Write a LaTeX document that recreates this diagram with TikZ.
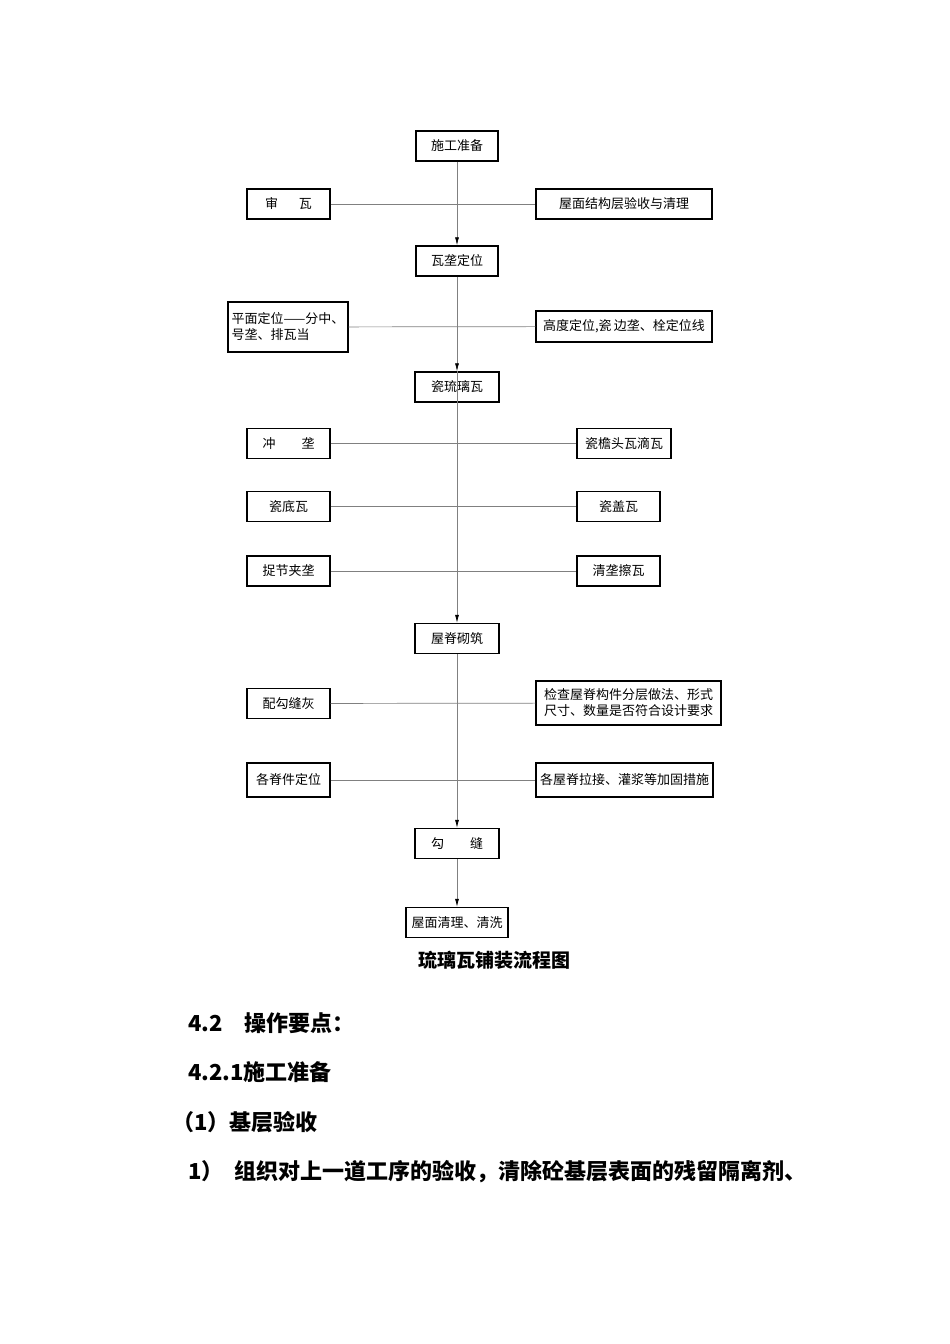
\documentclass[tikz,border=0pt]{standalone}
\usepackage{fontspec}
\setmainfont{Noto Sans CJK SC}
\usetikzlibrary{arrows.meta}

\tikzset{
  box/.style={draw, line width=1.4pt, minimum height=30, inner sep=2pt, font=\fontsize{13}{16}\selectfont},
  flow/.style={draw=gray, line width=0.7pt, -{Latex[length=8pt,width=4pt,black]}},
  link/.style={draw=gray, line width=0.7pt},
  heading/.style={anchor=west, inner sep=0pt, font=\bfseries\fontsize{22}{26}\selectfont},
}

\begin{document}
\begin{tikzpicture}[x=1pt, y=-1pt]

    % page frame, measured in pixels of the scanned page
    \useasboundingbox (0,0) rectangle (950,1344);

    % main column
    \node[box, minimum width=82] (prep) at (457,146) {施工准备};
    \node[box, minimum width=82] (locate) at (457,261) {瓦垄定位};
    \node[box, minimum width=84] (glaze) at (457,387) {瓷琉璃瓦};
    \node[box, minimum width=84] (ridge) at (457,638.5) {屋脊砌筑};
    \node[box, minimum width=84] (joint) at (457,843.5) {勾\hspace{2em}缝};
    \node[box, minimum width=102] (wash) at (457,922.5) {屋面清理、清洗};

    % side steps, left
    \node[box, minimum width=83] (check) at (288.5,204) {审\hspace{1.6em}瓦};
    \node[box, minimum width=120, minimum height=50, align=left] (plane) at (288,327) {平面定位——分中、\\号垄、排瓦当};
    \node[box, minimum width=83] (push) at (288.5,443.5) {冲\hspace{2em}垄};
    \node[box, minimum width=83] (bottom) at (288.5,506.5) {瓷底瓦};
    \node[box, minimum width=83] (pinch) at (288.5,571) {捉节夹垄};
    \node[box, minimum width=83] (mortar) at (288.5,703.5) {配勾缝灰};
    \node[box, minimum width=83, minimum height=34] (place) at (288.5,780) {各脊件定位};

    % side steps, right
    \node[box, minimum width=176] (roof) at (624,204) {屋面结构层验收与清理};
    \node[box, minimum width=176, minimum height=31] (height) at (624,326.5) {高度定位,瓷\,边垄、栓定位线};
    \node[box, minimum width=94] (eave) at (624,443.5) {瓷檐头瓦滴瓦};
    \node[box, minimum width=83] (cover) at (618.5,506.5) {瓷盖瓦};
    \node[box, minimum width=83] (clean) at (618.5,571) {清垄擦瓦};
    \node[box, minimum width=185, minimum height=44, align=left] (inspect) at (628.5,703) {检查屋脊构件分层做法、形式\\尺寸、数量是否符合设计要求};
    \node[box, minimum width=177, minimum height=34] (brace) at (624.5,780) {各屋脊拉接、灌浆等加固措施};

    % cross links
    \draw[link] (check) -- (roof);
    \draw[link] (plane) -- (height);
    \draw[link] (push) -- (eave);
    \draw[link] (bottom) -- (cover);
    \draw[link] (pinch) -- (clean);
    \draw[link] (mortar) -- (inspect);
    \draw[link] (place) -- (brace);

    % main flow
    \draw[flow] (prep) -- (locate);
    \draw[flow] (locate) -- (glaze);
    \draw[flow] (glaze.north) -- (ridge);
    \draw[flow] (ridge) -- (joint);
    \draw[flow] (joint) -- (wash);

    \node[font=\bfseries\fontsize{19}{22}\selectfont] (caption) at (494,960) {琉璃瓦铺装流程图};

    % text below the chart
    \node[heading] (sec) at (188,1023) {4.2\hspace{1em}操作要点：};
    \node[heading] (subsec) at (188,1072) {4.2.1施工准备};
    \node[heading] (item) at (172,1122) {（1）基层验收};
    \node[heading] (para) at (188,1172) {1）\hspace{0.5em}组织对上一道工序的验收，清除砼基层表面的残留隔离剂、};

\end{tikzpicture}
\end{document}
